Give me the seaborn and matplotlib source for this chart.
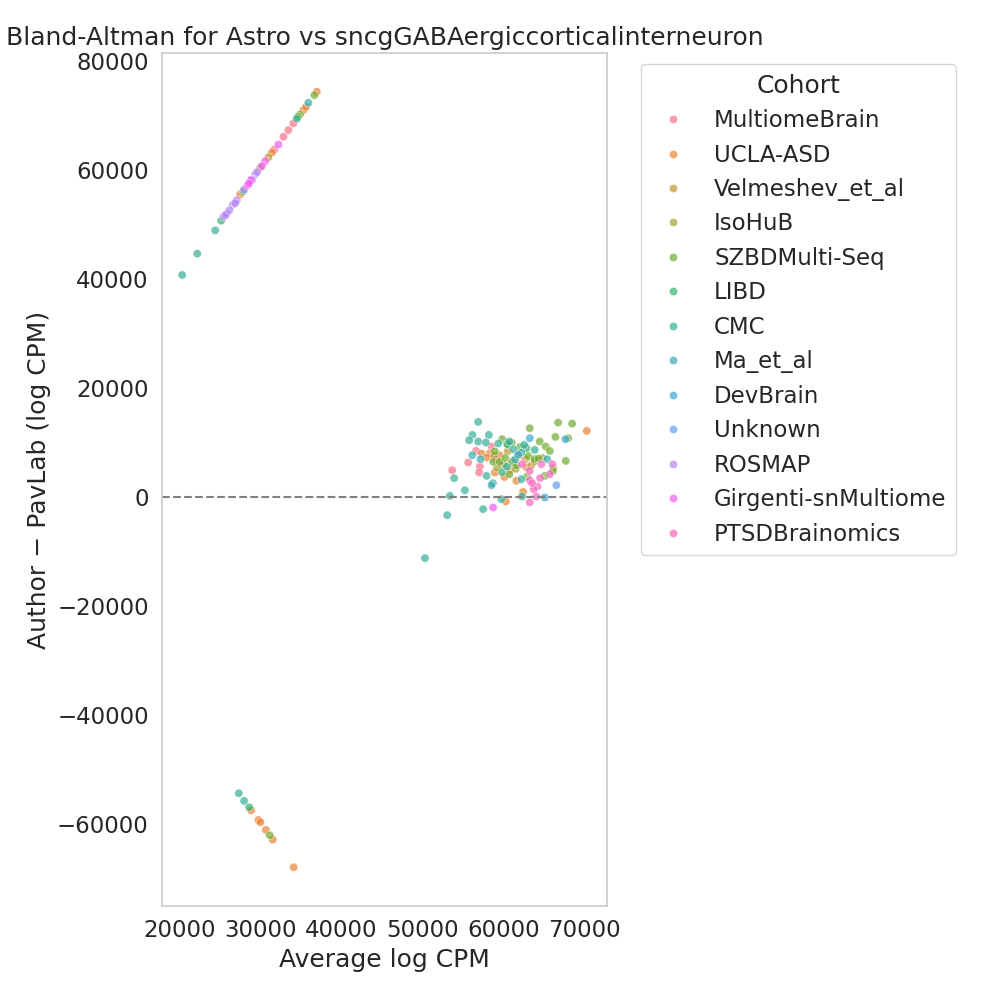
import matplotlib
matplotlib.use("Agg")
import matplotlib.pyplot as plt
import seaborn as sns
import pandas as pd

cohorts = ["MultiomeBrain", "UCLA-ASD", "Velmeshev_et_al", "IsoHuB", "SZBDMulti-Seq",
           "LIBD", "CMC", "Ma_et_al", "DevBrain", "Unknown", "ROSMAP",
           "Girgenti-snMultiome", "PTSDBrainomics"]

# (average log CPM, author - pavlab) per cohort
multiome_brain = [(31740, 63850), (32850, 66180), (33460, 67400), (34080, 68620),
                  (53660, 4950), (55630, 6370), (57070, 5630), (56980, 4530),
                  (58510, 9300), (56600, 8500), (58900, 7000)]
ucla_asd = [(27510, 55600), (31420, 63250), (35310, 71070), (35640, 71680), (36960, 74440),
            (28870, -57490), (29770, -59270), (30010, -59690), (30680, -61100),
            (31530, -62880), (34110, -67950),
            (57270, 8020), (58300, 8070), (58920, 4530), (60270, -790), (62390, 970),
            (70250, 12170), (61570, 3000), (59500, 7700), (60800, 5000), (61800, 7600),
            (62800, 5500), (57900, 7300), (60100, 3700)]
velmeshev = [(31000, 62400), (58800, 7600), (59600, 6200), (61200, 6800), (62700, 7000),
             (63400, 5800), (60500, 8400)]
isohub = [(29980, 60500), (60000, 6000), (61500, 5200), (63800, 6600), (64800, 7200),
          (66100, 5300), (59200, 5400)]
szbd = [(34900, 70280), (36660, 73820), (34650, 69900), (31160, -62080),
        (59820, 10640), (60400, 9800), (58720, 6480), (59500, 6500), (60200, 7200),
        (63220, 12660), (66710, 13700), (68440, 13510), (66380, 11070), (67950, 10830),
        (64450, 10220), (65190, 9300), (65690, 8500), (63020, 7580), (63800, 7000),
        (64300, 7100), (67660, 6660), (66080, 4830), (65070, 3900), (61000, 6400),
        (62000, 9200), (60700, 4200), (62900, 3800), (61600, 5800), (58900, 8400),
        (61000, 10000)]
libd = [(25170, 50770), (27920, 56200), (28620, -56940), (60500, 9700), (59800, 4600),
        (62800, 9000)]
cmc = [(20370, 40800), (22220, 44700), (24430, 49000), (34490, 69490),
       (27350, -54370), (28000, -55780),
       (56860, 13820), (56150, 11430), (55750, 10460), (56860, 10220), (58180, 11430),
       (57810, 10040), (59330, 9850), (60690, 10220), (53900, 3490), (55220, 1280),
       (53370, 240), (53040, -3300), (50300, -11190), (57470, -2200), (59720, -370),
       (62270, 120), (57900, 3910), (58670, 2570), (62190, 8200), (62520, 9600),
       (63840, 8680), (62190, 3300), (61200, 8800), (60400, 5600)]
ma_et_al = [(35920, 72420), (56130, 7710), (57150, 6970), (65380, 6970), (58500, 2200),
            (61400, 6900)]
devbrain = [(63220, 10830), (67610, 10640), (65070, -60), (61800, 7800)]
unknown = [(66500, 2200)]
rosmap = [(25460, 51500), (25870, 52100), (26610, 53700), (27100, 54550), (29360, 59270),
          (25700, 51800), (26200, 52700), (26900, 54000), (28000, 56500), (29000, 58300),
          (29600, 59700)]
girgenti = [(28410, 57250), (28830, 58220), (30590, 61700), (32230, 64770),
            (28600, 57600), (30200, 60800), (58710, -1890)]
ptsd = [(62270, 6060), (64650, 6060), (66000, 6060), (65690, 4220), (63220, 4830),
        (63220, 3120), (64160, 1960), (63710, 1470), (64030, 120), (63220, -980),
        (63500, 2600), (64500, 3500)]

groups = [multiome_brain, ucla_asd, velmeshev, isohub, szbd, libd, cmc, ma_et_al,
          devbrain, unknown, rosmap, girgenti, ptsd]

rows = []
for name, pts in zip(cohorts, groups):
    for a, d in pts:
        rows.append({"Cohort": name, "avg": a, "diff": d})
df = pd.DataFrame(rows)

sns.set(style="whitegrid", font_scale=1.5)
fig, ax = plt.subplots(figsize=(10, 10), dpi=100)
sns.scatterplot(data=df, x="avg", y="diff", hue="Cohort", hue_order=cohorts,
                alpha=0.7, ax=ax)
ax.axhline(0, color="gray", linestyle="--")
ax.grid(False)
ax.set_title("Bland-Altman for Astro vs sncgGABAergiccorticalinterneuron")
ax.set_xlabel("Average log CPM")
ax.set_ylabel("Author \u2212 PavLab (log CPM)")
ax.legend(title="Cohort", bbox_to_anchor=(1.05, 1), loc="upper left")
fig.subplots_adjust(left=0.162, right=0.607, bottom=0.094, top=0.947)
fig.savefig("out.png")
